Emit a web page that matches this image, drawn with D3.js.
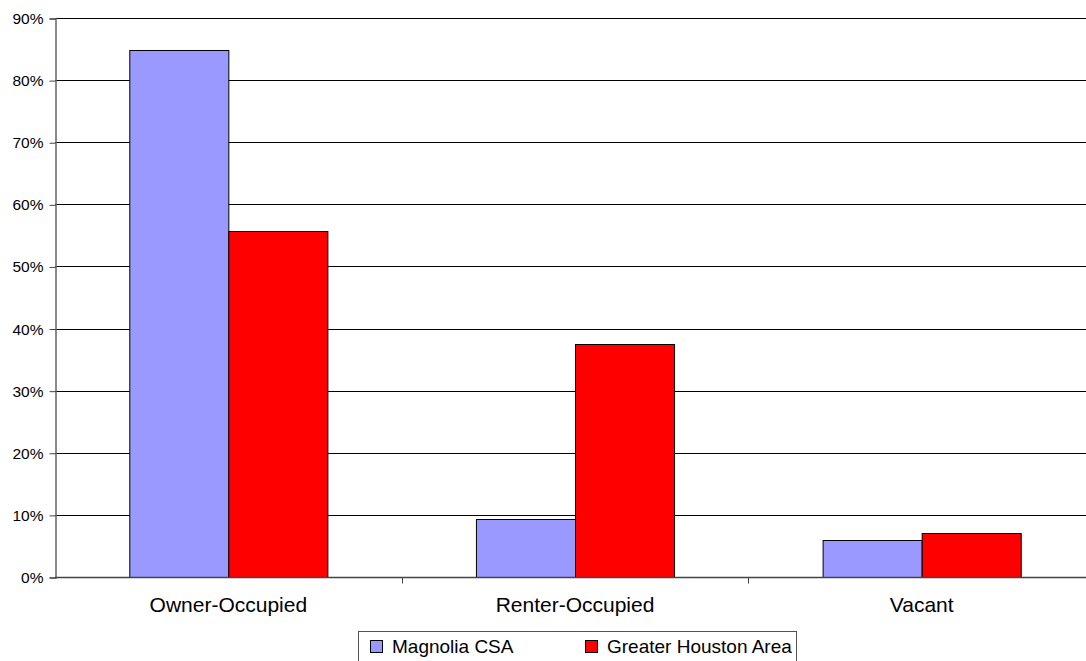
<!DOCTYPE html>
<html><head><meta charset="utf-8">
<script src="https://cdn.jsdelivr.net/npm/d3@7"></script>
<style>html,body{margin:0;padding:0;background:#fff}svg{display:block}text{font-family:"Liberation Sans",Arial,sans-serif;fill:#000}</style>
</head><body><svg id="c" width="1086" height="661"></svg>
<script>
const categories = ["Owner-Occupied", "Renter-Occupied", "Vacant"];
const seriesNames = ["Magnolia CSA", "Greater Houston Area"];
const magnolia = [0.848, 0.094, 0.059];
const houston = [0.557, 0.375, 0.071];
const yTicks = [0, 0.1, 0.2, 0.3, 0.4, 0.5, 0.6, 0.7, 0.8, 0.9];
const colors = ["#9999ff", "#ff0000"];

(function () {
const svg = d3.select("#c");
const mL = 55, mR = 1095, mT = 18, mB = 577;
const x0 = d3.scaleBand().domain(categories).range([mL, mR]).padding(0);
const x1 = d3.scaleBand().domain(seriesNames).range([0, x0.bandwidth()]).paddingInner(0).paddingOuter(0.75);
const y = d3.scaleLinear().domain([0, 0.9]).range([mB, mT]);
const color = d3.scaleOrdinal().domain(seriesNames).range(colors);
const data = categories.map((c, i) => ({cat: c, vals: [{s: seriesNames[0], v: magnolia[i]}, {s: seriesNames[1], v: houston[i]}]}));

// gridlines
svg.append("g").selectAll("line").data(yTicks.slice(1)).join("line")
  .attr("x1", mL).attr("x2", mR)
  .attr("y1", d => Math.round(y(d)) + 0.5).attr("y2", d => Math.round(y(d)) + 0.5)
  .attr("stroke", "#000").attr("stroke-width", 1);

// bars
const g = svg.append("g").selectAll("g").data(data).join("g")
  .attr("transform", d => `translate(${x0(d.cat)},0)`);
g.selectAll("rect").data(d => d.vals).join("rect")
  .attr("x", d => x1(d.s) + 0.5)
  .attr("y", d => Math.round(y(d.v)) + 0.5)
  .attr("width", x1.bandwidth())
  .attr("height", d => Math.round(y(0)) - Math.round(y(d.v)))
  .attr("fill", d => color(d.s))
  .attr("stroke", "#000").attr("stroke-width", 1);

// y axis
const yAxis = d3.axisLeft(y).tickValues(yTicks).tickFormat(d3.format(".0%")).tickSize(6).tickPadding(6);
const ya = svg.append("g").attr("transform", `translate(${mL + 0.5},0.5)`).call(yAxis);
ya.select(".domain").attr("stroke", "#666").attr("stroke-width", 1.5);
ya.selectAll(".tick line").attr("stroke", "#444");
ya.selectAll("text").attr("font-size", "15.5px").attr("font-family", "Liberation Sans, Arial, sans-serif").attr("fill", "#000");

// x axis
const xa = svg.append("g").attr("transform", `translate(0,${Math.round(y(0)) + 0.5})`);
xa.append("line").attr("x1", mL).attr("x2", mR).attr("stroke", "#444").attr("stroke-width", 1.5);
xa.selectAll("line.tk").data(categories.slice(1)).join("line").attr("class", "tk")
  .attr("x1", d => Math.round(x0(d)) + 0.5).attr("x2", d => Math.round(x0(d)) + 0.5)
  .attr("y1", 0).attr("y2", 6).attr("stroke", "#444");
xa.selectAll("text").data(categories).join("text")
  .attr("x", d => x0(d) + x0.bandwidth() / 2).attr("y", 34)
  .attr("text-anchor", "middle").attr("font-size", "21px").text(d => d);

// legend
const lg = svg.append("g");
lg.append("rect").attr("x", 358.5).attr("y", 631.5).attr("width", 438).attr("height", 40)
  .attr("fill", "#fff").attr("stroke", "#555").attr("stroke-width", 1);
const items = [{s: seriesNames[0], x: 370}, {s: seriesNames[1], x: 585}];
const li = lg.selectAll("g.it").data(items).join("g").attr("class", "it");
li.append("rect").attr("x", d => d.x + 0.5).attr("y", 640.5).attr("width", 12).attr("height", 12)
  .attr("fill", d => color(d.s)).attr("stroke", "#000");
li.append("text").attr("x", d => d.x + 22).attr("y", 653).attr("font-size", "19px").text(d => d.s);
})();
</script></body></html>
